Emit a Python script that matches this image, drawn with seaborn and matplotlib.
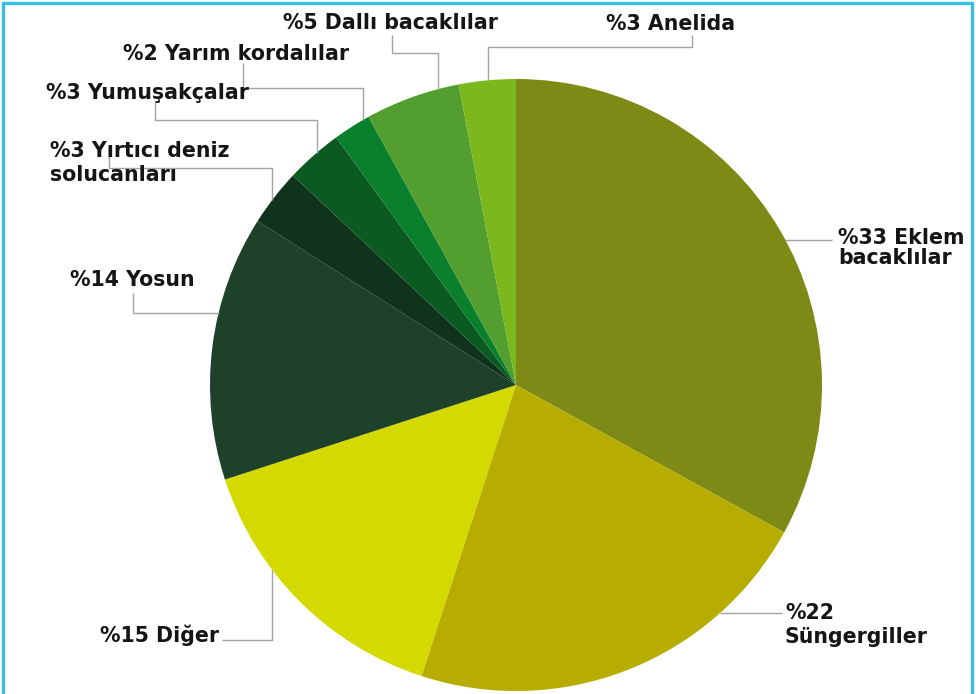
import numpy as np
import matplotlib
matplotlib.use("Agg")
import matplotlib.pyplot as plt
import seaborn as sns

# slices, clockwise from the top
labels = ["%33 Eklem\nbacaklılar", "%22\nSüngergiller", "%15 Diğer", "%14 Yosun",
          "%3 Yırtıcı deniz\nsolucanları", "%3 Yumuşakçalar", "%2 Yarım kordalılar",
          "%5 Dallı bacaklılar", "%3 Anelida"]
shares = [33, 22, 15, 14, 3, 3, 2, 5, 3]
colors = ["#7e8a16", "#b6ad00", "#d4da00", "#1e4129", "#10331c",
          "#0b5a22", "#0a7f2c", "#529e2e", "#7bb81e"]

sns.set_theme(style="white")
plt.rcParams["font.family"] = ["DejaVu Sans"]

W, H = 976, 694
CX, CY, R = 516, 385, 306

fig = plt.figure(figsize=(W / 100, H / 100), dpi=100)
ax = fig.add_axes([0, 0, 1, 1])

# axes in pixel coords, y pointing down -> counterclock in data = clockwise on screen
ax.pie(shares, colors=sns.color_palette(colors), startangle=-90, counterclock=True,
       center=(CX, CY), radius=R, wedgeprops=dict(linewidth=0))
ax.set_xlim(0, W)
ax.set_ylim(H, 0)
ax.set_aspect("equal")
ax.axis("off")


def on_circle_y(x, top=True):
    d = np.sqrt(R ** 2 - (x - CX) ** 2)
    return CY - d if top else CY + d


def on_circle_x(y, right=True):
    d = np.sqrt(R ** 2 - (y - CY) ** 2)
    return CX + d if right else CX - d


# label layout: (x, y, line spacing) and leader path
text_pos = [(838, 248, 1.05), (785, 625, 1.25), (100, 635, 1.2), (70, 280, 1.2),
            (50, 163, 1.25), (46, 93, 1.2), (123, 54, 1.2), (283, 23, 1.2),
            (606, 24, 1.2)]
leaders = [
    [(on_circle_x(240), 240), (832, 240)],
    [(on_circle_x(613), 613), (782, 613)],
    [(272, on_circle_y(272, top=False)), (272, 640), (222, 640)],
    [(on_circle_x(313, right=False), 313), (133, 313), (133, 293)],
    [(272, on_circle_y(272)), (272, 168), (109, 168), (109, 156)],
    [(317, on_circle_y(317)), (317, 120), (155, 120), (155, 102)],
    [(363, on_circle_y(363)), (363, 88), (243, 88), (243, 63)],
    [(438, on_circle_y(438)), (438, 53), (392, 53), (392, 35)],
    [(488, on_circle_y(488)), (488, 47), (692, 47), (692, 35)],
]

for lab, (tx, ty, ls), path in zip(labels, text_pos, leaders):
    xs, ys = zip(*path)
    ax.plot(xs, ys, color="#a3a3a3", lw=1.0, zorder=1, solid_capstyle="butt")
    ax.text(tx, ty, lab, ha="left", va="center", fontsize=14.8, fontweight="bold",
            color="#151515", linespacing=ls, zorder=3)

# cyan frame (left, top, right)
frame_col = "#3bbfe0"
ax.plot([3, 3, 972, 972], [H, 3, 3, H], color=frame_col, lw=2.4,
        solid_joinstyle="miter", zorder=4, clip_on=False)

fig.savefig("out.png", dpi=100, facecolor="white")
